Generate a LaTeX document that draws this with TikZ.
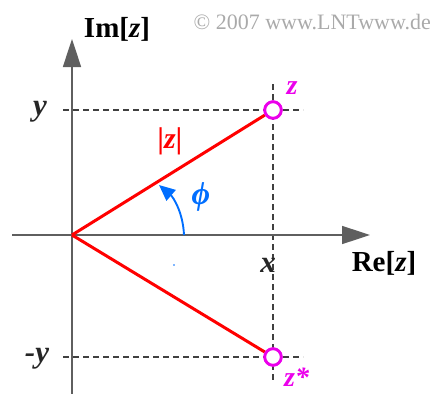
\documentclass[tikz,border=0pt]{standalone}
\usepackage{fontspec}
\setmainfont{Liberation Serif}
\usetikzlibrary{arrows.meta}
\definecolor{axisgray}{RGB}{95,95,95}
\definecolor{mag}{RGB}{235,0,235}
\definecolor{phiblue}{RGB}{0,110,255}
\definecolor{copygray}{RGB}{170,170,170}
\tikzset{
  axis/.style={draw=axisgray, line width=1.6pt, -{Triangle[length=28pt,width=18pt]}},
  guide/.style={draw=black!75, line width=1.2pt, dash pattern=on 6pt off 4pt},
  vec/.style={draw=red, line width=3pt},
  pt/.style={circle, draw=mag, fill=white, line width=2.8pt, minimum size=16.5pt, inner sep=0pt},
  lab/.style={font=\fontsize{31}{35}\selectfont\itshape\bfseries, text=black!85, inner sep=0pt},
  axlab/.style={font=\fontsize{29}{33}\selectfont\bfseries, inner sep=0pt},
  maglab/.style={font=\fontsize{28}{32}\selectfont\itshape\bfseries, text=mag, inner sep=0pt},
}
\begin{document}
\begin{tikzpicture}[x=1pt,y=-1pt]
\useasboundingbox (0,0) rectangle (432,394);
\coordinate (O) at (72,235);
\coordinate (ybot) at (72,394);
\coordinate (ytop) at (72,39);
\coordinate (xleft) at (12,235);
\coordinate (xright) at (370,235);
% guides
\coordinate (g1a) at (63,110); \coordinate (g1b) at (303,110);
\coordinate (g2a) at (63,357); \coordinate (g2b) at (303,357);
\coordinate (g3a) at (273,84); \coordinate (g3b) at (273,382);
\draw[guide] (g1a) -- (g1b);
\draw[guide] (g2a) -- (g2b);
\draw[guide] (g3a) -- (g3b);
% axes
\draw[axis] (ybot) -- (ytop);
\draw[axis] (xleft) -- (xright);
% vectors
\node[pt] (z) at (273,110) {};
\node[pt] (zs) at (273,357) {};
\draw[vec] (O) -- (z);
\draw[vec] (O) -- (zs);
\node[pt] at (273,110) {};
\node[pt] at (273,357) {};
% angle arc
\coordinate (a0) at (184,235);
\coordinate (a1) at (159,185);
\draw[phiblue, line width=1.9pt, -{Triangle[length=16pt,width=14pt]}] (a0) .. controls (183,212) and (173,197) .. (a1);
\fill[phiblue] (174,265) circle (0.8pt);
% labels
\node[axlab] (im) at (117,29) {Im[\textit{z}]};
\node[axlab] (re) at (384,263) {Re[\textit{z}]};
\node[lab] (ly) at (40,112) {y};
\node[lab] (lmy) at (37,359) {-y};
\node[lab] (lx) at (268,265) {x};
\node[font=\fontsize{30}{34}\selectfont\itshape\bfseries, text=red, inner sep=0pt] (absz) at (170,141) {|z|};
\node[font=\fontsize{32}{36}\selectfont\itshape\bfseries, text=phiblue, inner sep=0pt] (phi) at (201,197) {ϕ};
\node[maglab] (lz) at (292,88) {z};
\node[maglab, anchor=south west] (lzs) at (284,387) {z*};
\node[font=\fontsize{22}{25}\selectfont, text=copygray, anchor=east, inner sep=0pt] (copy) at (431,22) {© 2007 www.LNTwww.de};
\end{tikzpicture}
\end{document}
